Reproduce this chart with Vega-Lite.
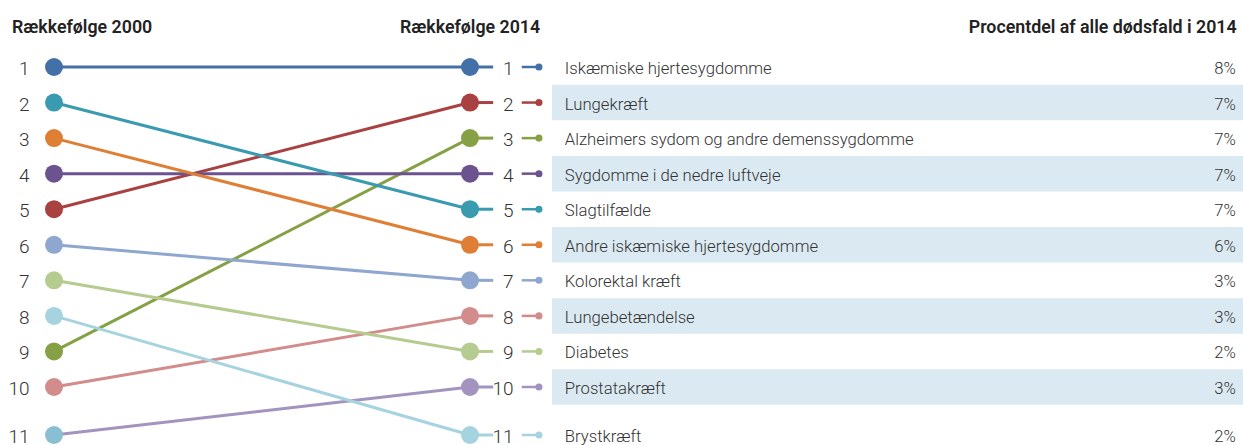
{
  "$schema": "https://vega.github.io/schema/vega-lite/v6.json",
  "width": 1243,
  "height": 445,
  "autosize": {"type": "none"},
  "padding": 0,
  "background": "white",
  "config": {"view": {"stroke": null}, "text": {"font": "Roboto", "color": "#333333"}},
  "data": {"values": [
    {"sygdom": "Iskæmiske hjertesygdomme", "r2000": 1, "r2014": 1, "andel": 0.08},
    {"sygdom": "Lungekræft", "r2000": 5, "r2014": 2, "andel": 0.07},
    {"sygdom": "Alzheimers sydom og andre demenssygdomme", "r2000": 9, "r2014": 3, "andel": 0.07},
    {"sygdom": "Sygdomme i de nedre luftveje", "r2000": 4, "r2014": 4, "andel": 0.07},
    {"sygdom": "Slagtilfælde", "r2000": 2, "r2014": 5, "andel": 0.07},
    {"sygdom": "Andre iskæmiske hjertesygdomme", "r2000": 3, "r2014": 6, "andel": 0.06},
    {"sygdom": "Kolorektal kræft", "r2000": 6, "r2014": 7, "andel": 0.03},
    {"sygdom": "Lungebetændelse", "r2000": 10, "r2014": 8, "andel": 0.03},
    {"sygdom": "Diabetes", "r2000": 7, "r2014": 9, "andel": 0.02},
    {"sygdom": "Prostatakræft", "r2000": 11, "r2014": 10, "andel": 0.03},
    {"sygdom": "Brystkræft", "r2000": 8, "r2014": 11, "andel": 0.02}
  ]},
  "encoding": {
    "y": {"field": "r2014", "type": "quantitative", "axis": null,
      "scale": {"domain": [1, 10, 11], "range": [67, 387, 435], "zero": false, "nice": false}}
  },
  "resolve": {"scale": {"color": "independent"}},
  "layer": [
    {
      "transform": [{"filter": "datum.r2014 % 2 == 0"}],
      "mark": {"type": "rule", "strokeWidth": 35.5, "color": "#dbeaf2", "strokeCap": "butt"},
      "encoding": {
        "x": {"datum": 2016.76, "type": "quantitative", "axis": null,
          "scale": {"domain": [2000, 2014], "range": [54, 470], "zero": false, "nice": false}},
        "x2": {"datum": 2041}
      }
    },
    {
      "mark": {"type": "rule", "strokeWidth": 3},
      "encoding": {
        "x": {"datum": 2000, "type": "quantitative"},
        "x2": {"datum": 2014},
        "y": {"field": "r2000", "type": "quantitative"},
        "y2": {"field": "r2014"},
        "color": {"field": "sygdom", "type": "nominal", "legend": null,
          "scale": {"domain": ["Iskæmiske hjertesygdomme", "Lungekræft", "Alzheimers sydom og andre demenssygdomme", "Sygdomme i de nedre luftveje", "Slagtilfælde", "Andre iskæmiske hjertesygdomme", "Kolorektal kræft", "Lungebetændelse", "Diabetes", "Prostatakræft", "Brystkræft"],
            "range": ["#4470a8", "#a8413f", "#86a046", "#6d5290", "#3a9ab0", "#df7f35", "#8fa6cf", "#d18c8b", "#b6cb8f", "#a394bf", "#a6d3e0"]}}
      }
    },
    {
      "mark": {"type": "rule", "strokeWidth": 3},
      "encoding": {
        "x": {"datum": 2014, "type": "quantitative"},
        "x2": {"datum": 2014.78},
        "color": {"field": "sygdom", "type": "nominal", "legend": null,
          "scale": {"domain": ["Iskæmiske hjertesygdomme", "Lungekræft", "Alzheimers sydom og andre demenssygdomme", "Sygdomme i de nedre luftveje", "Slagtilfælde", "Andre iskæmiske hjertesygdomme", "Kolorektal kræft", "Lungebetændelse", "Diabetes", "Prostatakræft", "Brystkræft"],
            "range": ["#4470a8", "#a8413f", "#86a046", "#6d5290", "#3a9ab0", "#df7f35", "#8fa6cf", "#d18c8b", "#b6cb8f", "#a394bf", "#a6d3e0"]}}
      }
    },
    {
      "mark": {"type": "rule", "strokeWidth": 2.5},
      "encoding": {
        "x": {"datum": 2015.74, "type": "quantitative"},
        "x2": {"datum": 2016.32},
        "color": {"field": "sygdom", "type": "nominal", "legend": null,
          "scale": {"domain": ["Iskæmiske hjertesygdomme", "Lungekræft", "Alzheimers sydom og andre demenssygdomme", "Sygdomme i de nedre luftveje", "Slagtilfælde", "Andre iskæmiske hjertesygdomme", "Kolorektal kræft", "Lungebetændelse", "Diabetes", "Prostatakræft", "Brystkræft"],
            "range": ["#4470a8", "#a8413f", "#86a046", "#6d5290", "#3a9ab0", "#df7f35", "#8fa6cf", "#d18c8b", "#b6cb8f", "#a394bf", "#a6d3e0"]}}
      }
    },
    {
      "mark": {"type": "circle", "size": 324, "opacity": 1},
      "encoding": {
        "x": {"datum": 2000, "type": "quantitative"},
        "y": {"field": "r2000", "type": "quantitative"},
        "color": {"field": "r2000", "type": "ordinal", "legend": null,
          "scale": {"domain": [1, 2, 3, 4, 5, 6, 7, 8, 9, 10, 11],
            "range": ["#4470a8", "#3a9ab0", "#df7f35", "#6d5290", "#a8413f", "#8fa6cf", "#b6cb8f", "#a6d3e0", "#86a046", "#d18c8b", "#89bfd2"]}}
      }
    },
    {
      "mark": {"type": "circle", "size": 324, "opacity": 1},
      "encoding": {
        "x": {"datum": 2014, "type": "quantitative"},
        "color": {"field": "sygdom", "type": "nominal", "legend": null,
          "scale": {"domain": ["Iskæmiske hjertesygdomme", "Lungekræft", "Alzheimers sydom og andre demenssygdomme", "Sygdomme i de nedre luftveje", "Slagtilfælde", "Andre iskæmiske hjertesygdomme", "Kolorektal kræft", "Lungebetændelse", "Diabetes", "Prostatakræft", "Brystkræft"],
            "range": ["#4470a8", "#a8413f", "#86a046", "#6d5290", "#3a9ab0", "#df7f35", "#8fa6cf", "#d18c8b", "#b6cb8f", "#a394bf", "#a6d3e0"]}}
      }
    },
    {
      "mark": {"type": "circle", "size": 50, "opacity": 1},
      "encoding": {
        "x": {"datum": 2016.32, "type": "quantitative"},
        "color": {"field": "sygdom", "type": "nominal", "legend": null,
          "scale": {"domain": ["Iskæmiske hjertesygdomme", "Lungekræft", "Alzheimers sydom og andre demenssygdomme", "Sygdomme i de nedre luftveje", "Slagtilfælde", "Andre iskæmiske hjertesygdomme", "Kolorektal kræft", "Lungebetændelse", "Diabetes", "Prostatakræft", "Brystkræft"],
            "range": ["#4470a8", "#a8413f", "#86a046", "#6d5290", "#3a9ab0", "#df7f35", "#8fa6cf", "#d18c8b", "#b6cb8f", "#a394bf", "#a6d3e0"]}}
      }
    },
    {
      "mark": {"type": "text", "align": "right", "baseline": "middle", "fontSize": 19, "fontWeight": 300, "dy": 2},
      "encoding": {
        "x": {"datum": 1999.175, "type": "quantitative"},
        "y": {"field": "r2000", "type": "quantitative"},
        "text": {"field": "r2000", "type": "quantitative"}
      }
    },
    {
      "mark": {"type": "text", "align": "right", "baseline": "middle", "fontSize": 19, "fontWeight": 300, "dy": 2},
      "encoding": {
        "x": {"datum": 2015.464, "type": "quantitative"},
        "text": {"field": "r2014", "type": "quantitative"}
      }
    },
    {
      "mark": {"type": "text", "align": "left", "baseline": "middle", "fontSize": 16.7, "fontWeight": 300, "dy": 2},
      "encoding": {
        "x": {"datum": 2017.19, "type": "quantitative"},
        "text": {"field": "sygdom", "type": "nominal"}
      }
    },
    {
      "mark": {"type": "text", "align": "right", "baseline": "middle", "fontSize": 16.7, "fontWeight": 300, "dy": 2},
      "encoding": {
        "x": {"datum": 2039.77, "type": "quantitative"},
        "text": {"field": "andel", "type": "quantitative", "format": ".0%"}
      }
    },
    {
      "transform": [{"filter": "datum.r2014 == 1"}],
      "mark": {"type": "text", "align": "left", "baseline": "middle", "fontSize": 17.8, "fontWeight": 600, "color": "#222222", "dy": -39},
      "encoding": {
        "x": {"datum": 1998.587, "type": "quantitative"},
        "text": {"value": "Rækkefølge 2000"}
      }
    },
    {
      "transform": [{"filter": "datum.r2014 == 1"}],
      "mark": {"type": "text", "align": "left", "baseline": "middle", "fontSize": 17.8, "fontWeight": 600, "color": "#222222", "dy": -39},
      "encoding": {
        "x": {"datum": 2011.644, "type": "quantitative"},
        "text": {"value": "Rækkefølge 2014"}
      }
    },
    {
      "transform": [{"filter": "datum.r2014 == 1"}],
      "mark": {"type": "text", "align": "right", "baseline": "middle", "fontSize": 17.8, "fontWeight": 600, "color": "#222222", "dy": -39},
      "encoding": {
        "x": {"datum": 2039.8, "type": "quantitative"},
        "text": {"value": "Procentdel af alle dødsfald i 2014"}
      }
    }
  ]
}
